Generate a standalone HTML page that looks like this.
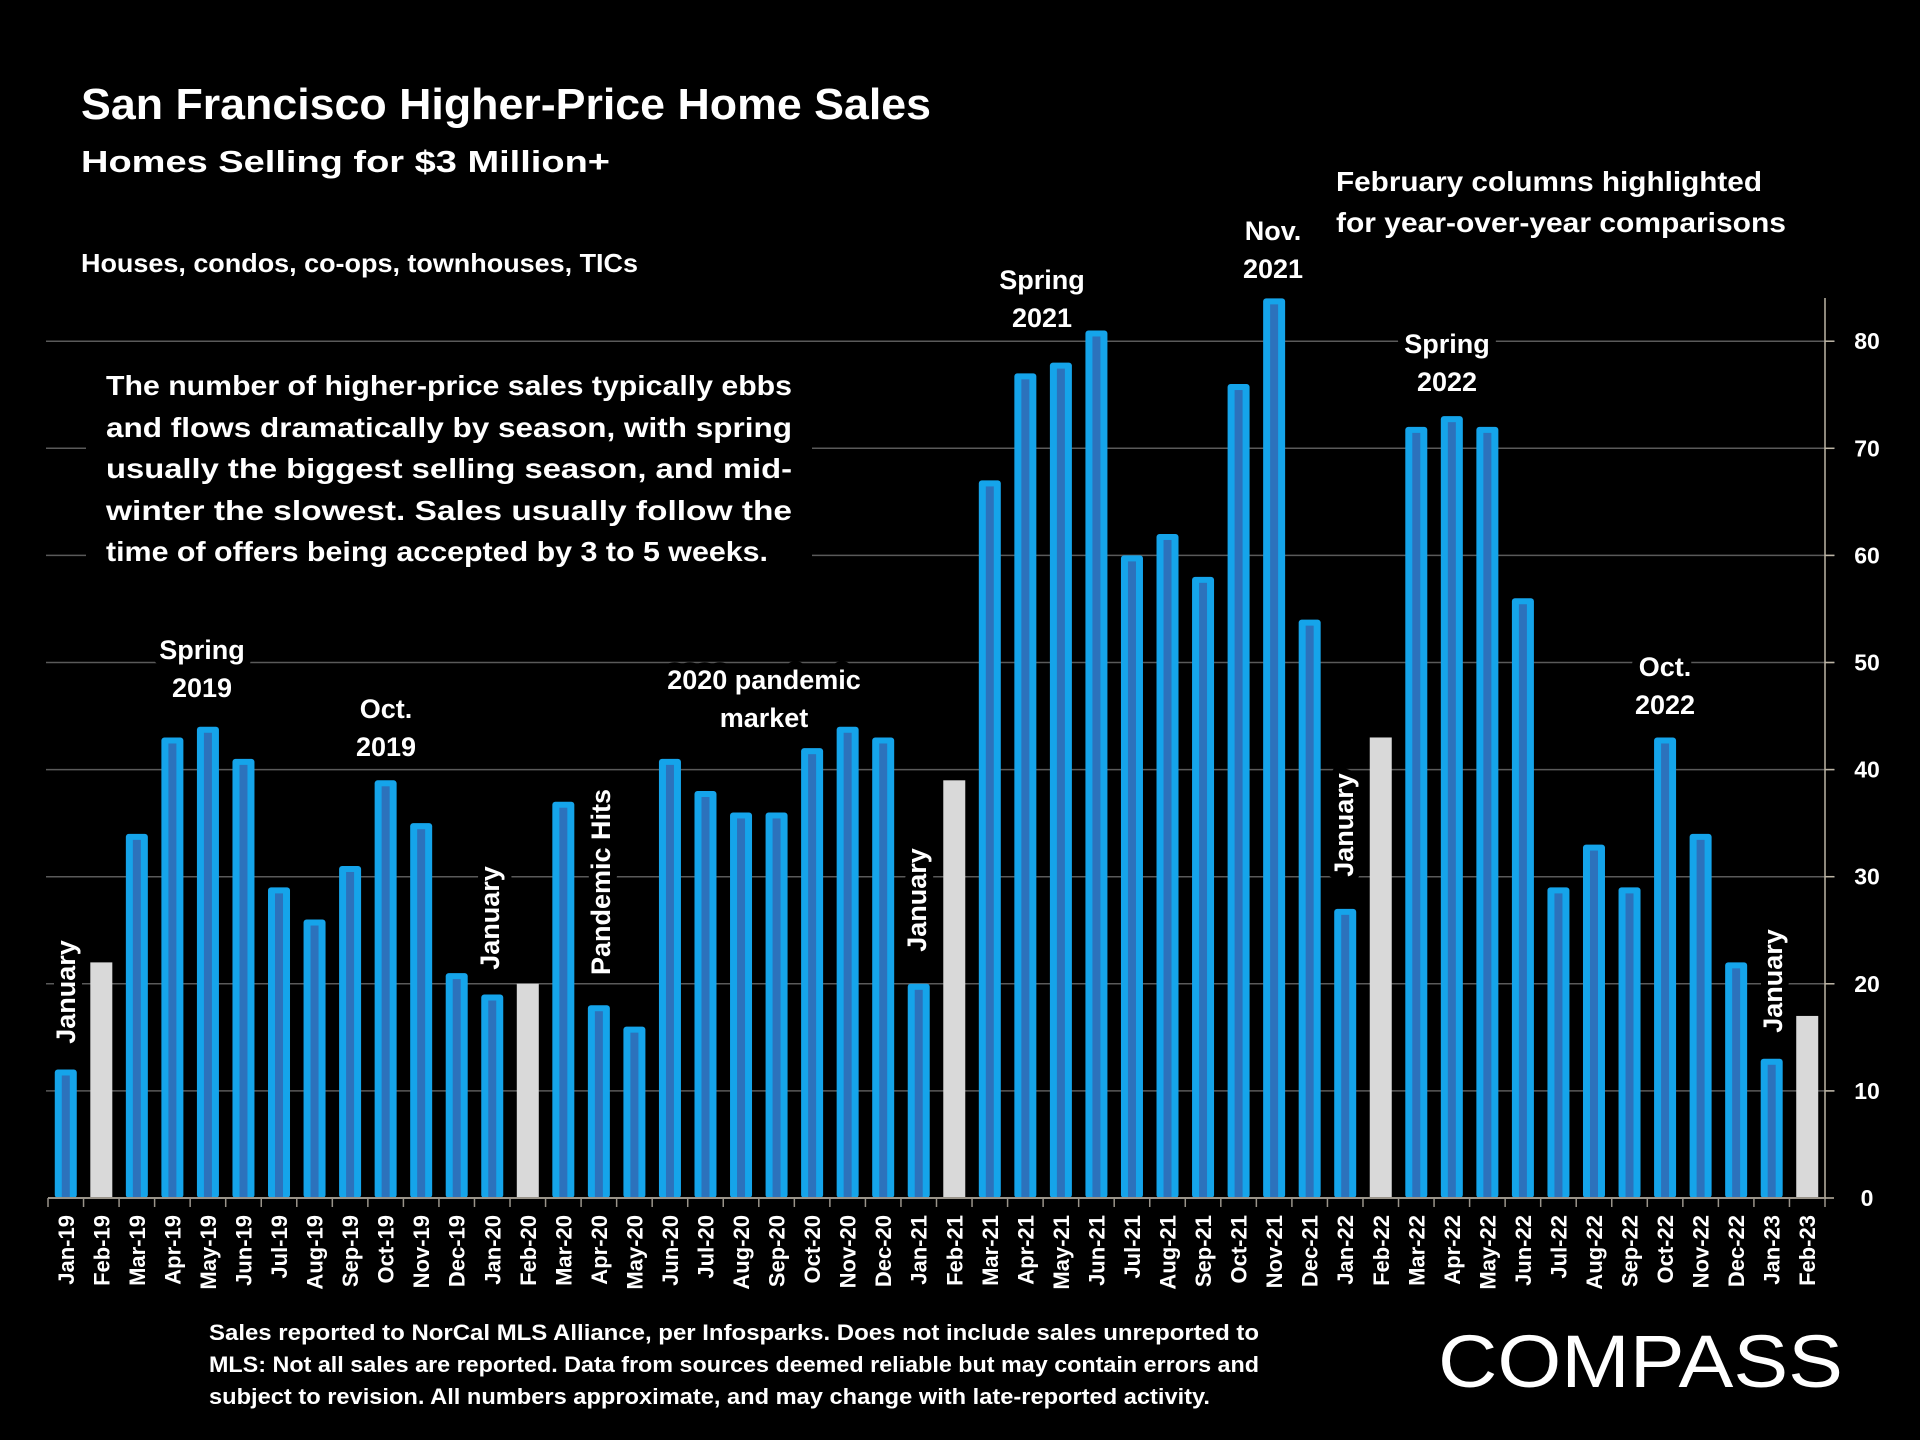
<!DOCTYPE html>
<html><head><meta charset="utf-8">
<style>
html,body{margin:0;padding:0;background:#000;}
svg{display:block;}
text{font-family:"Liberation Sans",sans-serif;font-weight:bold;fill:#fff;}
</style></head>
<body>
<svg id="chart" width="1920" height="1440" viewBox="0 0 1920 1440" xmlns="http://www.w3.org/2000/svg">
<rect width="1920" height="1440" fill="#000"/>
<g id="grid"></g>
<g id="bars"></g>
<g id="axes"></g>
<g id="xlabels"></g>
<g id="ylabels"></g>

<text x="81" y="119" font-size="44" textLength="850" lengthAdjust="spacingAndGlyphs">San Francisco Higher-Price Home Sales</text>
<text x="81" y="172" font-size="31" textLength="529" lengthAdjust="spacingAndGlyphs">Homes Selling for  $3 Million+</text>
<text x="81" y="272" font-size="26" textLength="557" lengthAdjust="spacingAndGlyphs">Houses, condos, co-ops, townhouses, TICs</text>
<text x="1336" y="191" font-size="28" textLength="426" lengthAdjust="spacingAndGlyphs">February columns highlighted</text>
<text x="1336" y="232" font-size="28" textLength="450" lengthAdjust="spacingAndGlyphs">for year-over-year comparisons</text>

<g>
<rect x="86" y="355" width="726" height="222" fill="#000"/>
<text x="106" y="395" font-size="28" textLength="686" lengthAdjust="spacingAndGlyphs">The number of higher-price sales typically ebbs</text>
<text x="106" y="437" font-size="28" textLength="686" lengthAdjust="spacingAndGlyphs">and flows dramatically by season, with spring</text>
<text x="106" y="478" font-size="28" textLength="686" lengthAdjust="spacingAndGlyphs">usually the biggest selling season, and mid-</text>
<text x="106" y="520" font-size="28" textLength="686" lengthAdjust="spacingAndGlyphs">winter the slowest. Sales usually follow the</text>
<text x="106" y="561" font-size="28" textLength="662" lengthAdjust="spacingAndGlyphs">time of offers being accepted by 3 to 5 weeks.</text>
</g>

<g id="annots"></g>

<g>
<text x="209" y="1340" font-size="22" textLength="1050" lengthAdjust="spacingAndGlyphs">Sales reported to NorCal MLS Alliance, per Infosparks. Does not include sales unreported to</text>
<text x="209" y="1372" font-size="22" textLength="1050" lengthAdjust="spacingAndGlyphs">MLS: Not all sales are reported. Data from sources deemed reliable but may contain errors and</text>
<text x="209" y="1404" font-size="22" textLength="1001" lengthAdjust="spacingAndGlyphs">subject to revision.  All numbers approximate, and may change with late-reported activity.</text>
</g>
<text x="1438" y="1387" font-size="74" style="font-weight:normal" textLength="405" lengthAdjust="spacingAndGlyphs">COMPASS</text>
</svg>
<script>
const categories = ["Jan-19","Feb-19","Mar-19","Apr-19","May-19","Jun-19","Jul-19","Aug-19","Sep-19","Oct-19","Nov-19","Dec-19",
"Jan-20","Feb-20","Mar-20","Apr-20","May-20","Jun-20","Jul-20","Aug-20","Sep-20","Oct-20","Nov-20","Dec-20",
"Jan-21","Feb-21","Mar-21","Apr-21","May-21","Jun-21","Jul-21","Aug-21","Sep-21","Oct-21","Nov-21","Dec-21",
"Jan-22","Feb-22","Mar-22","Apr-22","May-22","Jun-22","Jul-22","Aug-22","Sep-22","Oct-22","Nov-22","Dec-22",
"Jan-23","Feb-23"];
const sales = [12,22,34,43,44,41,29,26,31,39,35,21,
19,20,37,18,16,41,38,36,36,42,44,43,
20,39,67,77,78,81,60,62,58,76,84,54,
27,43,72,73,72,56,29,33,29,43,34,22,
13,17];
const yTicks = [0,10,20,30,40,50,60,70,80];
const yTickLabels = ["0","10","20","30","40","50","60","70","80"];

const NS="http://www.w3.org/2000/svg";
const plotL=48, plotR=1825, y0=1198, pxPerUnit=10.71;
const band=(plotR-plotL)/categories.length;
function xScale(i){return plotL+band*(i+0.5);}
function yScale(v){return y0-v*pxPerUnit;}
function mk(tag,attrs,parent){const e=document.createElementNS(NS,tag);for(const k in attrs)e.setAttribute(k,attrs[k]);parent.appendChild(e);return e;}

const grid=document.getElementById('grid');
yTicks.forEach((t,i)=>{
  if(t===0) return;
  const l=mk('line',{x1:plotL-2,x2:plotR+10,y1:yScale(t),y2:yScale(t),stroke:'#5a5a5a','stroke-width':1.5},grid);
  
  
});
const ylab=document.getElementById('ylabels');
yTicks.forEach((t,i)=>{
  const tx=mk('text',{x:1867,y:yScale(t)+8,'font-size':23,'text-anchor':'middle'},ylab);
  tx.textContent=yTickLabels[i];
  
  
});

const barsG=document.getElementById('bars');
const bw=22;
sales.forEach((v,i)=>{
  const isFeb=categories[i].startsWith('Feb');
  const cx=xScale(i), top=yScale(v);
  const g=mk('g',{},barsG);
  
  
  if(isFeb){
    mk('rect',{x:cx-bw/2,y:top,width:bw,height:y0-top,fill:'#d9d9d9'},g);
  } else {
    mk('rect',{x:cx-bw/2,y:top,width:bw,height:y0-top,fill:'#15a4ea',rx:3},g);
    mk('rect',{x:cx-4,y:top+6,width:8,height:Math.max(0,y0-top-6),fill:'#2c72bc'},g);
  }
});

const axes=document.getElementById('axes');
const ya=mk('line',{x1:plotR,x2:plotR,y1:298,y2:y0,stroke:'#bdb5a5','stroke-width':1.5},axes);


const xa=mk('line',{x1:plotL,x2:plotR,y1:y0,y2:y0,stroke:'#9a948a','stroke-width':2},axes);


for(let i=0;i<=categories.length;i++){
  const x=plotL+band*i;
  mk('line',{x1:x,x2:x,y1:y0,y2:y0+9,stroke:'#9a948a','stroke-width':1.5},axes);
}
yTicks.forEach(t=>{mk('line',{x1:plotR,x2:plotR+9,y1:yScale(t),y2:yScale(t),stroke:'#bdb5a5','stroke-width':1.5},axes);});

const xl=document.getElementById('xlabels');
categories.forEach((c,i)=>{
  const x=xScale(i)+8, y=1215;
  const t=mk('text',{x:x,y:y,'font-size':22,'text-anchor':'end',transform:`rotate(-90 ${x} ${y})`},xl);
  t.textContent=c;
  
  
});

const an=document.getElementById('annots');
const two=[["Spring","2019",202,659],["Oct.","2019",386,718],["2020 pandemic","market",764,689],
["Spring","2021",1042,289],["Nov.","2021",1273,240],["Spring","2022",1447,353],["Oct.","2022",1665,676]];
two.forEach(a=>{
  const g=mk('g',{},an);
  
  
  [a[0],a[1]].forEach((s,k)=>{
    const t=mk('text',{x:a[2],y:a[3]+k*38,'font-size':27,'text-anchor':'middle',stroke:'#000','stroke-width':16,'paint-order':'stroke','stroke-linejoin':'round'},g);
    t.textContent=s;
  });
});
const rot=[["January",65,992],["January",489,918],["Pandemic Hits",600,882],["January",916,900],["January",1343,825],["January",1772,981]];
rot.forEach(a=>{
  const x=a[1]+10,y=a[2];
  const t=mk('text',{x:x,y:y,'font-size':27,'text-anchor':'middle',transform:`rotate(-90 ${x} ${y})`,stroke:'#000','stroke-width':14,'paint-order':'stroke','stroke-linejoin':'round'},an);
  t.textContent=a[0];
  
  
});
</script>
</body></html>
